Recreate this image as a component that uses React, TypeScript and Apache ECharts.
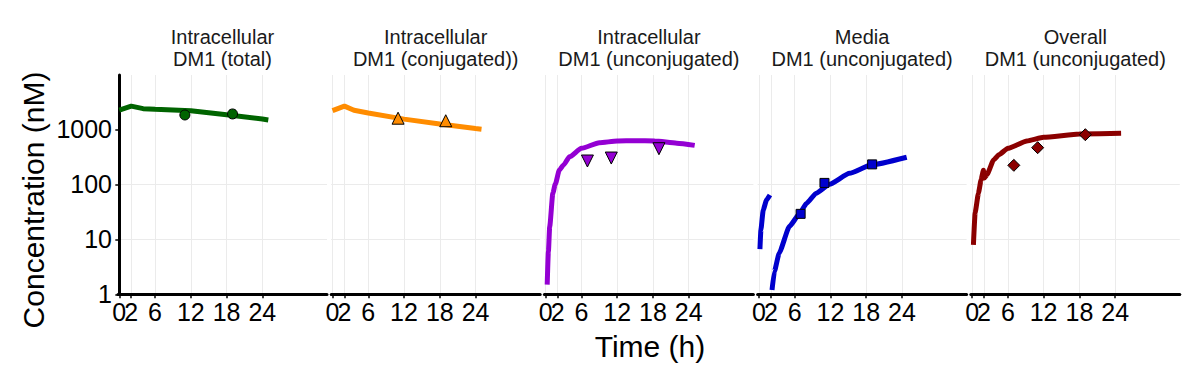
import React, { useEffect, useRef } from "react";
import * as echarts from "echarts";

// ---- data ----
const timeTicks = [0, 2, 6, 12, 18, 24];
const concTicks = [1, 10, 100, 1000];

const panelTitles = [
  "Intracellular\nDM1 (total)",
  "Intracellular\nDM1 (conjugated))",
  "Intracellular\nDM1 (unconjugated)",
  "Media\nDM1 (unconjugated)",
  "Overall\nDM1 (unconjugated)",
];
const panelColors = ["#006400", "#FF8C00", "#9400D3", "#0000CD", "#8B0000"];
const panelSymbols = ["circle", "triangle", "triangle", "rect", "diamond"];
const panelSymbolRotate = [0, 0, 180, 0, 0];
const panelSymbolSize = [10, 12, 12, 9, 12];
const panelSmooth = [0, 0, 0.2, 0.15, 0.15];

// model curves
const totalLineT = [0, 2, 4, 6, 12, 18, 24, 25];
const totalLineV = [2240, 2640, 2370, 2310, 2180, 1830, 1540, 1480];

const conjLineT = [0, 2, 3.6, 6, 12, 18, 24, 25];
const conjLineV = [2180, 2640, 2220, 1980, 1530, 1250, 1030, 1000];

const unconjLineT = [0.25, 0.45, 0.67, 1.2, 1.6, 2.3, 3, 4, 6, 9, 12, 15, 18.3, 22, 25];
const unconjLineV = [1.5, 6, 17, 69, 100, 182, 225, 316, 450, 570, 612, 620, 612, 560, 510];

const mediaLine1T = [0.17, 0.33, 0.72, 1.28, 1.85];
const mediaLine1V = [6.6, 14.7, 34, 52, 64];
const mediaLine2T = [2.2, 2.6, 3.4, 5.1, 6.8, 8, 9.6, 11.85, 15.2, 18.8, 24.8];
const mediaLine2V = [1.2, 2.6, 5.6, 17, 29, 45, 69, 100, 158, 224, 310];

const overallLineT = [0.22, 0.5, 1.06, 1.5, 1.9, 2.05, 2.5, 3.6, 4.5, 6, 9.2, 12, 18, 25];
const overallLineV = [7.9, 30, 69, 120, 180, 130, 150, 277, 345, 451, 612, 715, 820, 845];

// observations
const totalObsT = [11, 19];
const totalObsV = [1820, 1900];
const conjObsT = [11, 19];
const conjObsV = [1590, 1430];
const unconjObsT = [7, 11, 19];
const unconjObsV = [265, 300, 443];
const mediaObsT = [7, 11, 19];
const mediaObsV = [29, 106, 230];
const overallObsT = [7, 11, 19];
const overallObsV = [221, 463, 797];

const pair = (t: number[], v: number[]) => t.map((x, i) => [x, v[i]]);

const lineSets: number[][][][] = [
  [pair(totalLineT, totalLineV)],
  [pair(conjLineT, conjLineV)],
  [pair(unconjLineT, unconjLineV)],
  [pair(mediaLine1T, mediaLine1V), pair(mediaLine2T, mediaLine2V)],
  [pair(overallLineT, overallLineV)],
];
const obsSets: number[][][] = [
  pair(totalObsT, totalObsV),
  pair(conjObsT, conjObsV),
  pair(unconjObsT, unconjObsV),
  pair(mediaObsT, mediaObsV),
  pair(overallObsT, overallObsV),
];

const FONT = '"Liberation Sans", Arial, Helvetica, sans-serif';

export default function App() {
  const ref = useRef<HTMLDivElement>(null);

  useEffect(() => {
    if (!ref.current) return;
    const chart = echarts.init(ref.current, undefined, { renderer: "svg" });

    const panelLeft0 = 118;
    const panelStep = 213.2;
    const panelWidth = 209;
    const top = 75;
    const height = 219.3;
    const xMin = -0.22;
    const xMax = 34.85;

    const grids: any[] = [];
    const xAxes: any[] = [];
    const yAxes: any[] = [];
    const series: any[] = [];
    const graphics: any[] = [];

    const labelStyle = {
      fontSize: 25,
      color: "#000",
      margin: 5,
      fontFamily: FONT,
      showMinLabel: true,
      showMaxLabel: true,
      formatter: (v: number) => String(v),
    };

    for (let i = 0; i < 5; i++) {
      const left = panelLeft0 + panelStep * i;
      grids.push({ left, top, width: panelWidth, height, containLabel: false });
      // main x axis: line, ticks, grid, first label
      xAxes.push({
        type: "value",
        gridIndex: i,
        min: xMin,
        max: xMax,
        axisLine: { show: true, lineStyle: { color: "#000", width: 3 } },
        axisTick: {
          show: true,
          customValues: timeTicks,
          length: 4,
          lineStyle: { color: "#000", width: 1.5 },
        },
        axisLabel: { ...labelStyle, customValues: timeTicks.slice(0, 1) },
        splitLine: { show: true, lineStyle: { color: "#ebebeb", width: 1 } },
      });
      // companion x axis: remaining labels (kept separate so "0" and "2" both show)
      xAxes.push({
        type: "value",
        gridIndex: i,
        position: "bottom",
        min: xMin,
        max: xMax,
        axisLine: { show: false },
        axisTick: { show: false },
        splitLine: { show: false },
        axisLabel: { ...labelStyle, customValues: timeTicks.slice(1) },
      });
      yAxes.push({
        type: "log",
        logBase: 10,
        gridIndex: i,
        min: 1,
        max: 9700,
        axisLine: { show: i === 0, lineStyle: { color: "#000", width: 3 } },
        axisTick: {
          show: i === 0,
          customValues: concTicks,
          length: 4,
          lineStyle: { color: "#000", width: 1.5 },
        },
        axisLabel: {
          show: i === 0,
          customValues: concTicks,
          showMinLabel: true,
          fontSize: 25,
          color: "#000",
          margin: 6,
          fontFamily: FONT,
          formatter: (v: number) => String(Math.round(v)),
        },
        splitLine: {
          show: true,
          showMaxLine: false,
          lineStyle: { color: "#ebebeb", width: 1 },
        },
      });

      lineSets[i].forEach((d) => {
        series.push({
          type: "line",
          xAxisIndex: 2 * i,
          yAxisIndex: i,
          data: d,
          showSymbol: false,
          symbol: "none",
          smooth: panelSmooth[i],
          smoothMonotone: "x",
          lineStyle: { color: panelColors[i], width: 5 },
          z: 2,
          silent: true,
        });
      });
      series.push({
        type: "scatter",
        xAxisIndex: 2 * i,
        yAxisIndex: i,
        data: obsSets[i],
        symbol: panelSymbols[i],
        symbolSize: panelSymbolSize[i],
        symbolRotate: panelSymbolRotate[i],
        itemStyle: { color: panelColors[i], borderColor: "#000", borderWidth: 1, opacity: 1 },
        z: 3,
      });

      graphics.push({
        type: "text",
        x: left + panelWidth / 2,
        y: 48,
        style: {
          text: panelTitles[i],
          font: `20px ${FONT}`,
          fill: "#1a1a1a",
          align: "center",
          verticalAlign: "middle",
          lineHeight: 22,
        },
      });
    }

    graphics.push({
      type: "text",
      x: 33,
      y: 200,
      rotation: Math.PI / 2,
      style: {
        text: "Concentration (nM)",
        font: `30px ${FONT}`,
        fill: "#000",
        align: "center",
        verticalAlign: "middle",
      },
    });
    graphics.push({
      type: "text",
      x: 650,
      y: 346,
      style: {
        text: "Time (h)",
        font: `30px ${FONT}`,
        fill: "#000",
        align: "center",
        verticalAlign: "middle",
      },
    });

    chart.setOption({
      animation: false,
      backgroundColor: "#fff",
      grid: grids,
      xAxis: xAxes,
      yAxis: yAxes,
      series,
      graphic: graphics,
    });

    return () => chart.dispose();
  }, []);

  return (
    <div
      ref={ref}
      style={{ position: "fixed", left: 0, top: 0, width: 1200, height: 380 }}
    />
  );
}
